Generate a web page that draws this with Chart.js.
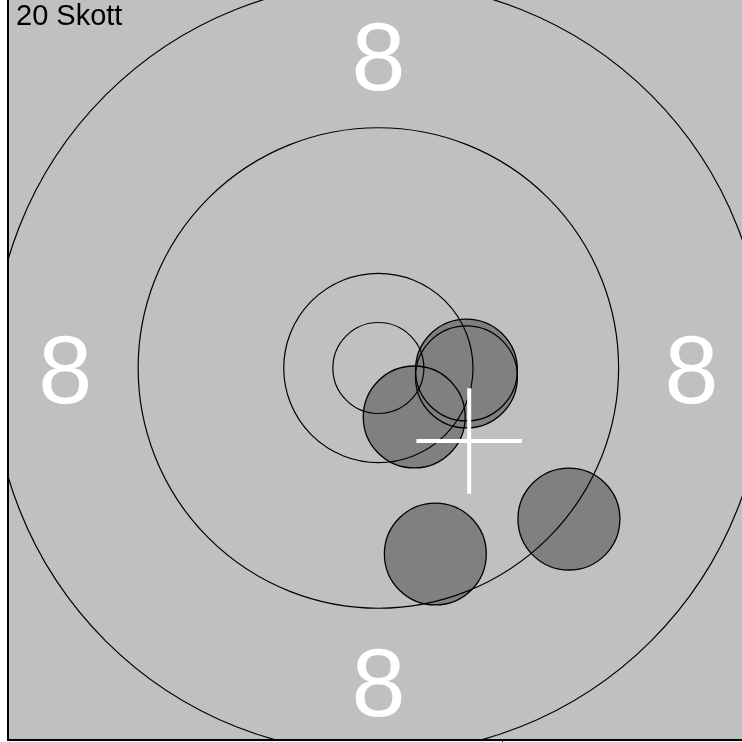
<!DOCTYPE html>
<html>
<head>
<meta charset="utf-8">
<script src="https://cdn.jsdelivr.net/npm/chart.js@4.4.1/dist/chart.umd.min.js"></script>
<style>
  html, body { margin: 0; padding: 0; background: #fff; }
  #wrap { width: 742px; height: 742px; position: relative; }
</style>
</head>
<body>
<div id="wrap"><canvas id="target"></canvas></div>
<script>
// everything in mm, target centre at 0,0 (50m rifle target)
const shotCountText = '20 Skott';
const shotX = [4.84, 4.84, 1.97, 3.13, 10.47];
const shotY = [-0.11, -0.49, -2.69, -10.22, -8.30];
const bulletRadius = 2.8;

const ringRadii = [2.5, 5.2, 13.2, 21.2];
const ringLabels = ['8', '8', '8', '8'];
const ringLabelX = [0, -17.2, 17.2, 0];
const ringLabelY = [17.2, 0, 0, -17.2];

const meanX = 4.99;
const meanY = -4.01;
const meanArm = 2.9;

const xRange = [-20.35, 19.98];
const yRange = [-20.44, 20.22];
const xTickValues = [6.84];

const shots = shotX.map((x, i) => ({x: x, y: shotY[i]}));

function mmToPx(chart, mm) {
    const sx = chart.scales.x;
    if (!sx) return 0;
    return Math.abs(sx.getPixelForValue(mm) - sx.getPixelForValue(0));
}

const targetFace = {
    id: 'targetFace',
    beforeDraw(chart) {
        const {ctx, chartArea: a} = chart;
        ctx.save();
        ctx.fillStyle = '#c0c0c0';
        ctx.fillRect(a.left, a.top, a.right - a.left, a.bottom - a.top);
        ctx.restore();
    },
    afterDatasetsDraw(chart) {
        const {ctx, scales} = chart;
        const size = 97;
        ctx.save();
        ctx.fillStyle = '#ffffff';
        ctx.font = size + 'px "Liberation Sans", Arial, sans-serif';
        ctx.textAlign = 'center';
        ctx.textBaseline = 'alphabetic';
        ringLabels.forEach((txt, i) => {
            const px = scales.x.getPixelForValue(ringLabelX[i]);
            const py = scales.y.getPixelForValue(ringLabelY[i]);
            ctx.fillText(txt, px, py + size * 0.716 / 2);
        });
        ctx.restore();
    },
    afterDraw(chart) {
        const {ctx, chartArea: a} = chart;
        ctx.save();
        ctx.fillStyle = '#000';
        ctx.font = '29px "Liberation Sans", Arial, sans-serif';
        ctx.textAlign = 'left';
        ctx.textBaseline = 'alphabetic';
        ctx.fillText(shotCountText, a.left + 8, a.top + 25);
        ctx.restore();
    }
};

const scaledRadius = mm => ctx => mmToPx(ctx.chart, mm);

new Chart(document.getElementById('target'), {
    type: 'scatter',
    data: {
        datasets: [
            {
                label: 'Medelträff',
                data: [{x: meanX, y: meanY}],
                order: 0,
                clip: 0,
                pointStyle: 'cross',
                pointRadius: scaledRadius(meanArm),
                pointBorderColor: '#ffffff',
                pointBorderWidth: 4,
            },
            {
                label: 'Ringar',
                data: ringRadii.map(r => ({x: 0, y: 0, r: r})),
                order: 1,
                clip: 0,
                pointRadius: ctx => ctx.raw ? mmToPx(ctx.chart, ctx.raw.r) : 0,
                pointBackgroundColor: 'rgba(0,0,0,0)',
                pointBorderColor: '#000',
                pointBorderWidth: 1.2,
            },
            {
                label: 'Skott kant',
                data: shots,
                order: 2,
                clip: 0,
                pointRadius: scaledRadius(bulletRadius),
                pointBackgroundColor: 'rgba(0,0,0,0)',
                pointBorderColor: '#000',
                pointBorderWidth: 1.3,
            },
            {
                label: 'Skott',
                data: shots,
                order: 3,
                clip: 0,
                pointRadius: scaledRadius(bulletRadius),
                pointBackgroundColor: '#808080',
                pointBorderWidth: 0,
            },
        ],
    },
    options: {
        responsive: true,
        maintainAspectRatio: false,
        animation: false,
        events: [],
        layout: {padding: 0},
        plugins: {legend: {display: false}, tooltip: {enabled: false}, title: {display: false}},
        scales: {
            x: {
                type: 'linear',
                min: xRange[0],
                max: xRange[1],
                afterBuildTicks: s => { s.ticks = xTickValues.map(v => ({value: v})); },
                afterFit: s => { s.height = 2; },
                ticks: {display: false},
                grid: {drawOnChartArea: false, drawTicks: true, tickLength: 4, color: '#000', lineWidth: 1},
                border: {display: true, color: '#000', width: 2},
            },
            y: {
                type: 'linear',
                min: yRange[0],
                max: yRange[1],
                afterFit: s => { s.width = 8; },
                ticks: {display: false},
                grid: {display: false, drawOnChartArea: false, drawTicks: false},
                border: {display: true, color: '#000', width: 2},
            },
        },
    },
    plugins: [targetFace],
});
</script>
</body>
</html>
